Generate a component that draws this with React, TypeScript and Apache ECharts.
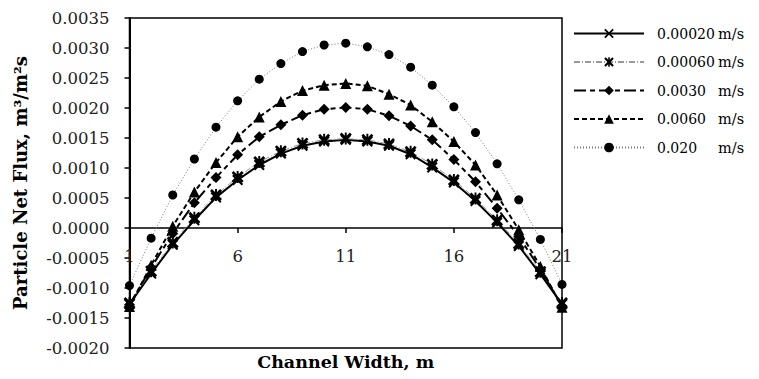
import React, { useEffect, useRef } from "react";
import * as echarts from "echarts";

const categories = ["1","2","3","4","5","6","7","8","9","10","11","12","13","14","15","16","17","18","19","20","21"];

const seriesNames = ["0.00020", "0.00060", "0.0030", "0.0060", "0.020"];

const v00020 = [-0.00127,-0.00076,-0.00028,0.00013,0.00051,0.00080,0.00105,0.00124,0.00137,0.00144,0.00147,0.00144,0.00137,0.00123,0.00101,0.00076,0.00045,0.00009,-0.00030,-0.00077,-0.00127];
const v00060 = [-0.00125,-0.00072,-0.00024,0.00017,0.00055,0.00085,0.00110,0.00128,0.00141,0.00147,0.00149,0.00147,0.00140,0.00127,0.00106,0.00080,0.00049,0.00013,-0.00026,-0.00073,-0.00125];
const v0030 = [-0.00128,-0.00066,-0.00009,0.00042,0.00084,0.00122,0.00152,0.00172,0.00188,0.00198,0.00201,0.00198,0.00187,0.00170,0.00147,0.00114,0.00077,0.00033,-0.00014,-0.00069,-0.00130];
const v0060 = [-0.00131,-0.00062,0.00003,0.00060,0.00109,0.00152,0.00185,0.00211,0.00229,0.00238,0.00241,0.00237,0.00223,0.00205,0.00177,0.00144,0.00105,0.00055,-0.00003,-0.00064,-0.00132];
const v020 = [-0.00096,-0.00017,0.00055,0.00115,0.00168,0.00212,0.00248,0.00274,0.00294,0.00305,0.00308,0.00302,0.00289,0.00268,0.00238,0.00202,0.00159,0.00107,0.00047,-0.00019,-0.00094];

const FONT = "DejaVu Serif";

const X_PATH =
  "path://M0,1.3 L1.3,0 L5,3.7 L8.7,0 L10,1.3 L6.3,5 L10,8.7 L8.7,10 L5,6.3 L1.3,10 L0,8.7 L3.7,5 Z";
const STAR_PATH =
  "path://M0,1.6 L1.6,0 L5,3.4 L8.4,0 L10,1.6 L6.6,5 L10,8.4 L8.4,10 L5,6.6 L1.6,10 L0,8.4 L3.4,5 Z M4.2,0 L5.8,0 L5.8,10 L4.2,10 Z";

const GRID_TOP = 18;
const GRID_BOTTOM_PX = 348;
const Y_MIN = -0.002;
const Y_MAX = 0.0035;

export default function App() {
  const ref = useRef<HTMLDivElement>(null);
  useEffect(() => {
    if (!ref.current) return;
    const chart = echarts.init(ref.current, null, { renderer: "svg" });
    const zeroPx = GRID_TOP + ((Y_MAX - 0) / (Y_MAX - Y_MIN)) * (GRID_BOTTOM_PX - GRID_TOP);
    const mk = (name: string, data: number[], symbol: string, symbolSize: number, line: any) => ({
      name,
      type: "line",
      data,
      symbol,
      symbolSize,
      showSymbol: true,
      itemStyle: { color: "#000" },
      lineStyle: line,
      z: 3,
    });
    chart.setOption({
      animation: false,
      backgroundColor: "#fff",
      textStyle: { fontFamily: FONT, color: "#000" },
      grid: {
        left: 129.5,
        top: GRID_TOP,
        right: 197,
        bottom: 379 - GRID_BOTTOM_PX,
        show: true,
        borderColor: "#000",
        borderWidth: 1.5,
        backgroundColor: "transparent",
        outerBoundsMode: "none",
        containLabel: false,
      },
      legend: {
        orient: "vertical",
        left: 573,
        top: 26,
        padding: 0,
        itemWidth: 70,
        itemHeight: 12,
        itemGap: 13.5,
        data: seriesNames,
        formatter: (n: string) => `{v|${n}}{u|m/s}`,
        textStyle: {
          fontFamily: FONT,
          fontSize: 14,
          color: "#000",
          padding: [0, 0, 0, 8],
          rich: {
            v: { fontFamily: FONT, fontSize: 14, width: 61, color: "#000" },
            u: { fontFamily: FONT, fontSize: 14.5, color: "#000" },
          },
        },
      },
      xAxis: {
        type: "category",
        data: categories,
        boundaryGap: false,
        position: "bottom",
        offset: -(GRID_BOTTOM_PX - zeroPx),
        name: "Channel Width, m",
        nameLocation: "middle",
        nameGap: 125,
        nameTextStyle: { fontFamily: FONT, fontWeight: "bold", fontSize: 17.5, color: "#000" },
        axisLine: { onZero: false, lineStyle: { color: "#000", width: 1.5 } },
        axisTick: { interval: 4, length: 5, lineStyle: { color: "#000", width: 1.5 } },
        axisLabel: { interval: 4, margin: 20, fontFamily: FONT, fontSize: 16.5, color: "#222" },
        splitLine: { show: false },
      },
      yAxis: {
        type: "value",
        min: Y_MIN,
        max: Y_MAX,
        interval: 0.0005,
        name: "Particle Net Flux, m\u00b3/m\u00b2s",
        nameLocation: "middle",
        nameGap: 100,
        nameTextStyle: { fontFamily: FONT, fontWeight: "bold", fontSize: 18, color: "#000" },
        axisLine: { show: true, onZero: false, lineStyle: { color: "#000", width: 2 } },
        axisTick: { show: true, length: 5, lineStyle: { color: "#000", width: 1.5 } },
        axisLabel: {
          fontFamily: FONT,
          fontSize: 16.5,
          color: "#222",
          margin: 20,
          formatter: (v: number) => v.toFixed(4),
        },
        splitLine: { show: false },
      },
      series: [
        mk(seriesNames[0], v00020, X_PATH, 11, { color: "#000", width: 2, type: "solid" }),
        mk(seriesNames[1], v00060, STAR_PATH, 12, { color: "#999", width: 1, type: [6, 2, 1, 2] }),
        mk(seriesNames[2], v0030, "diamond", 11, { color: "#000", width: 2, type: [12, 4, 5, 4] }),
        mk(seriesNames[3], v0060, "triangle", 11, { color: "#000", width: 2, type: [5, 3] }),
        mk(seriesNames[4], v020, "circle", 9, { color: "#777", width: 1, type: [1, 2] }),
      ],
    });
    return () => chart.dispose();
  }, []);
  return <div ref={ref} style={{ width: 759, height: 379, position: "absolute", left: 0, top: 0 }} />;
}
